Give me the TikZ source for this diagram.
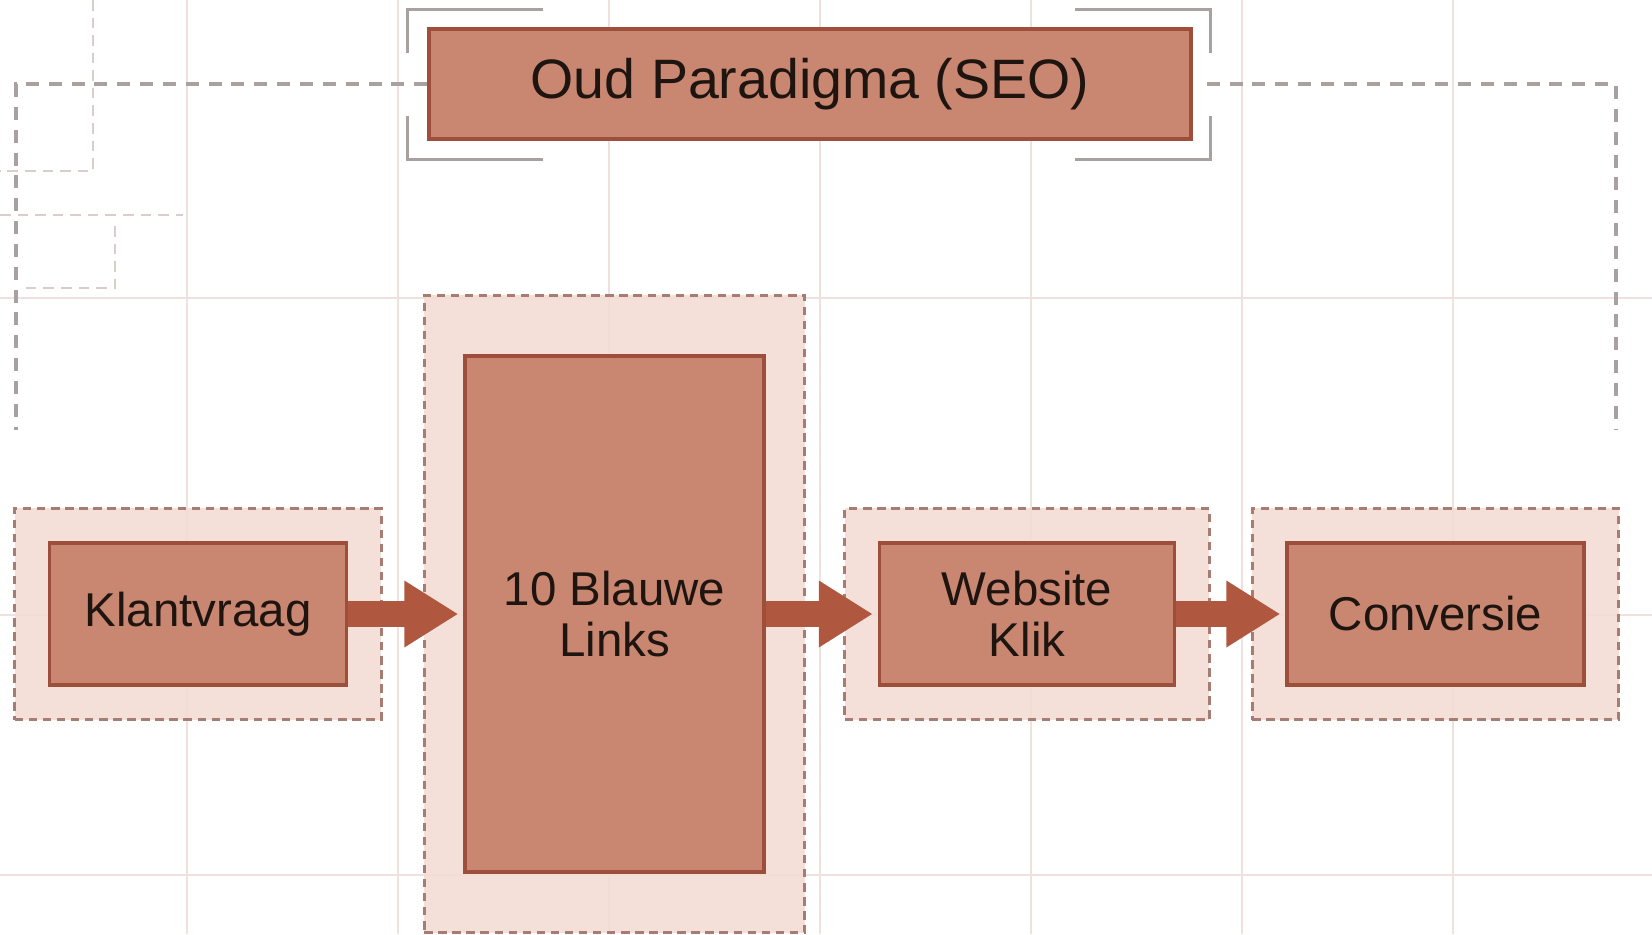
\documentclass[tikz,border=0pt]{standalone}
\usepackage{fontspec}
\setmainfont{Liberation Sans}
\usetikzlibrary{positioning,fit,backgrounds,arrows.meta}
\definecolor{boxfill}{HTML}{C98670}
\definecolor{boxedge}{HTML}{9E4F3B}
\definecolor{halofill}{HTML}{F3DBD2}
\definecolor{haloedge}{HTML}{A57D72}
\definecolor{arrowfill}{HTML}{B0573F}
\definecolor{guidegray}{HTML}{A9A1A0}
\definecolor{gridpink}{HTML}{EFE2DE}
\definecolor{inkdark}{HTML}{1E1410}

\begin{document}
\begin{tikzpicture}[node distance=1.12cm, auto,
    block/.style={rectangle, draw=boxedge, line width=1pt, fill=boxfill, text=inkdark, align=center, inner sep=0pt, minimum width=2.97cm, minimum height=1.42cm, font=\fontsize{13.5}{14.6}\selectfont},
    halo/.style={rectangle, draw=haloedge, line width=0.8pt, dash pattern=on 2.4pt off 1.6pt, fill=halofill, fill opacity=0.85, inner sep=0.33cm},
    line/.style={draw=arrowfill, line width=0.26cm, -{Triangle[length=0.54cm, width=0.63cm]}, shorten >=0.05cm},
    guide/.style={draw=guidegray, line width=0.9pt, dash pattern=on 3.7pt off 2.8pt},
    bracket/.style={draw=guidegray, line width=0.8pt},
    gridline/.style={draw=gridpink, line width=0.6pt},
    faint/.style={draw=gridpink!80!gray, line width=0.6pt, dash pattern=on 3pt off 2pt}]

    \useasboundingbox (0,0) rectangle (16.52,9.34);

    \node [block, minimum width=7.62cm, minimum height=1.10cm, font=\fontsize{15.8}{18}\selectfont] (title) at (8.10,8.50) {Oud Paradigma (SEO)};

    \node [block] (klant) at (1.98,3.20) {Klantvraag};
    \node [block, right=1.15cm of klant, minimum width=2.99cm, minimum height=5.16cm] (links) {10 Blauwe\\Links};
    \node [block, right=of links, minimum width=2.95cm] (klik) {Website\\Klik};
    \node [block, right=1.09cm of klik] (conv) {Conversie};

    \begin{scope}[on background layer]
        \foreach \x in {1.87,3.98,6.09,8.20,10.31,12.42,14.53}
            \draw [gridline] (\x,0) -- (\x,9.34);
        \foreach \y in {6.36,3.19,0.59}
            \draw [gridline] (0,\y) -- (16.52,\y);
        \draw [faint] (0.93,9.34) -- (0.93,7.63) -- (0,7.63);
        \draw [faint] (0,7.19) -- (1.83,7.19);
        \draw [faint] (1.15,7.08) -- (1.15,6.46) -- (0.20,6.46);
        \node [halo, fit=(klant)] (klanthalo) {};
        \node [halo, fit=(links), inner xsep=0.39cm, inner ysep=0.59cm] (linkshalo) {};
        \node [halo, fit=(klik)] (klikhalo) {};
        \node [halo, fit=(conv)] (convhalo) {};
    \end{scope}

    \path [line] (klant) -- (links);
    \path [line] (links) -- (klik);
    \path [line] (klik) -- (conv);

    \coordinate (btl) at ([shift={(-0.20,0.18)}]title.north west);
    \coordinate (btr) at ([shift={(0.18,0.18)}]title.north east);
    \coordinate (bbl) at ([shift={(-0.20,-0.19)}]title.south west);
    \coordinate (bbr) at ([shift={(0.18,-0.19)}]title.south east);
    \draw [bracket] ([xshift=1.36cm]btl) -- (btl) -- ([yshift=-0.44cm]btl);
    \draw [bracket] ([xshift=-1.36cm]btr) -- (btr) -- ([yshift=-0.44cm]btr);
    \draw [bracket] ([xshift=1.36cm]bbl) -- (bbl) -- ([yshift=0.44cm]bbl);
    \draw [bracket] ([xshift=-1.36cm]bbr) -- (bbr) -- ([yshift=0.44cm]bbr);

    \draw [guide] (title.west) -| (0.16,5.04);
    \draw [guide] ([xshift=0.14cm]title.east) -| (16.16,5.04);
\end{tikzpicture}
\end{document}
